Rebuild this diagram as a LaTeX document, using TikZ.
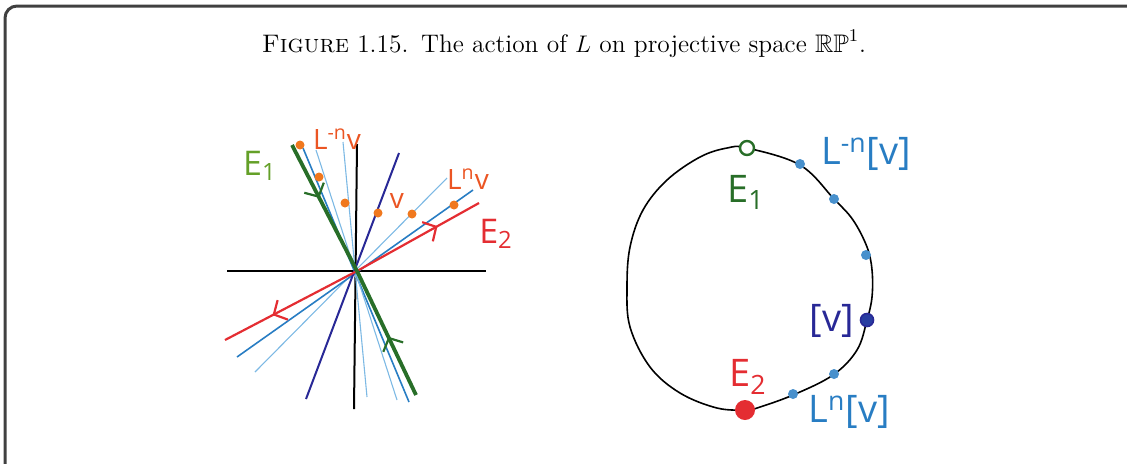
\documentclass[tikz,border=0pt]{standalone}
\usepackage{amsmath,amssymb}
\usepackage{fontspec}
\newfontfamily\handfont{Open Sans}
\definecolor{framegray}{RGB}{64,64,64}
\definecolor{eonegreen}{RGB}{40,110,40}
\definecolor{labelgreen}{RGB}{100,160,40}
\definecolor{etwored}{RGB}{228,45,50}
\definecolor{orbitorange}{RGB}{240,120,30}
\definecolor{orbitlabel}{RGB}{235,85,35}
\definecolor{vblue}{RGB}{40,40,150}
\definecolor{midblue}{RGB}{40,125,195}
\definecolor{paleblue}{RGB}{125,185,228}
\usetikzlibrary{arrows.meta,decorations.markings}

\begin{document}
\begin{tikzpicture}[x=0.5pt,y=-0.5pt,
    axis/.style={line width=1pt, black},
    eline/.style={line width=1.9pt, eonegreen},
    rline/.style={line width=1.1pt, etwored},
    vline/.style={line width=1pt, vblue},
    orbitline/.style={line width=0.8pt, midblue},
    faintline/.style={line width=0.55pt, paleblue},
    flowarrow/.style={postaction={decorate, decoration={markings, mark=at position #1 with {\arrow{Straight Barb[length=5pt,width=11pt,line width=1.1pt]}}}}},
    odot/.style={circle, fill=orbitorange, inner sep=0pt, minimum size=4.5pt},
    bdot/.style={circle, fill=midblue!85, inner sep=0pt, minimum size=5pt},
    hlabel/.style={font=\handfont\fontsize{14}{16}\selectfont, inner sep=0pt},
    rlabel/.style={font=\handfont\fontsize{19}{21}\selectfont, inner sep=0pt}
]
    \useasboundingbox (0,0) rectangle (1127,463);
    % Frame
    \begin{scope}
        \clip (0,0) rectangle (1127,463);
        \draw[framegray, line width=1.5pt, rounded corners=6pt] (5,520) -- (5,6) -- (1160,6);
    \end{scope}

    % Caption
    \node[font=\fontsize{12.7}{15}\selectfont] (cap) at (564,44)
        {\textsc{Figure} 1.15.\enspace The action of $L$ on projective space $\mathbb{RP}^1$.};

    % Left: the plane
    \coordinate (O) at (357,271);
    \coordinate (xl) at (227,271);
    \coordinate (xr) at (486,271);
    \coordinate (yt) at (357,144);
    \coordinate (yb) at (354,409);
    \draw[axis] (xl) -- (xr);
    \draw[axis] (yt) -- (yb);

    % Orbit lines
    \coordinate (p1t) at (303,148);  \coordinate (p1b) at (409,402);
    \coordinate (p2t) at (316,150);  \coordinate (p2b) at (397,400);
    \coordinate (p3t) at (343,142);  \coordinate (p3b) at (367,397);
    \coordinate (p4t) at (447,178);  \coordinate (p4b) at (255,372);
    \coordinate (p5t) at (473,190);  \coordinate (p5b) at (237,357);
    \draw[orbitline] (p1t) -- (p1b);
    \draw[faintline] (p2t) -- (p2b);
    \draw[faintline] (p3t) -- (p3b);
    \draw[faintline] (p4t) -- (p4b);
    \draw[orbitline] (p5t) -- (p5b);

    % Line of v
    \coordinate (vt) at (399,153);
    \coordinate (vb) at (306,399);
    \draw[vline] (vt) -- (vb);

    % Eigenlines
    \coordinate (e2t) at (479,203);
    \coordinate (e2b) at (225,340);
    \draw[rline, flowarrow=0.66] (O) -- (e2t);
    \draw[rline, flowarrow=0.64] (O) -- (e2b);
    \coordinate (e1t) at (292,145);
    \coordinate (e1b) at (416,395);
    \draw[eline, flowarrow=0.42] (e1t) -- (O);
    \draw[eline, flowarrow=0.47] (e1b) -- (O);

    % Orbit points
    \foreach \p [count=\i] in {(300,145),(319,177),(345,203),(378,213),(412,214),(454,205)}
        \node[odot] (o\i) at \p {};

    \node[hlabel, labelgreen, font=\handfont\fontsize{17}{19}\selectfont] (le1) at (260,166) {E\textsubscript{1}};
    \node[hlabel, orbitlabel] (lminus) at (337,139) {L\textsuperscript{-n}v};
    \node[hlabel, orbitlabel] (lv) at (397,201) {v};
    \node[hlabel, orbitlabel] (lnv) at (468,179) {L\textsuperscript{n}v};
    \node[hlabel, etwored, font=\handfont\fontsize{17}{19}\selectfont] (le2) at (496,234) {E\textsubscript{2}};

    % Right: the projective line
    \draw[line width=0.8pt] plot[smooth cycle, tension=0.6] coordinates {
        (747,148) (800,165) (834,199) (853,220) (867,247) (872,270) (872,297)
        (867,320) (857,350) (833,375) (793,395) (757,408) (747,410) (717,408)
        (680,393) (650,367) (630,327) (627,287) (630,247) (643,210) (667,180)
        (700,157) (727,148)};

    \node[circle, draw=eonegreen, fill=white, line width=1.2pt, inner sep=0pt, minimum size=7pt] (c1) at (747,148) {};
    \node[circle, fill=etwored, inner sep=0pt, minimum size=10pt] (c2) at (745,410) {};
    \node[circle, draw=vblue, fill=vblue!75!midblue, line width=0.8pt, inner sep=0pt, minimum size=6.5pt] (cv) at (867,320) {};
    \foreach \p [count=\i] in {(800,164),(834,199),(866,255),(834,374),(793,394)}
        \node[bdot] (b\i) at \p {};

    \node[rlabel, eonegreen] (le1r) at (746,192) {E\textsubscript{1}};
    \node[rlabel, midblue] (lminusr) at (866,154) {L\textsuperscript{-n}[v]};
    \node[rlabel, vblue] (lvr) at (832,321) {[v]};
    \node[rlabel, etwored] (le2r) at (748,377) {E\textsubscript{2}};
    \node[rlabel, midblue] (lnr) at (849,412) {L\textsuperscript{n}[v]};
\end{tikzpicture}
\end{document}
